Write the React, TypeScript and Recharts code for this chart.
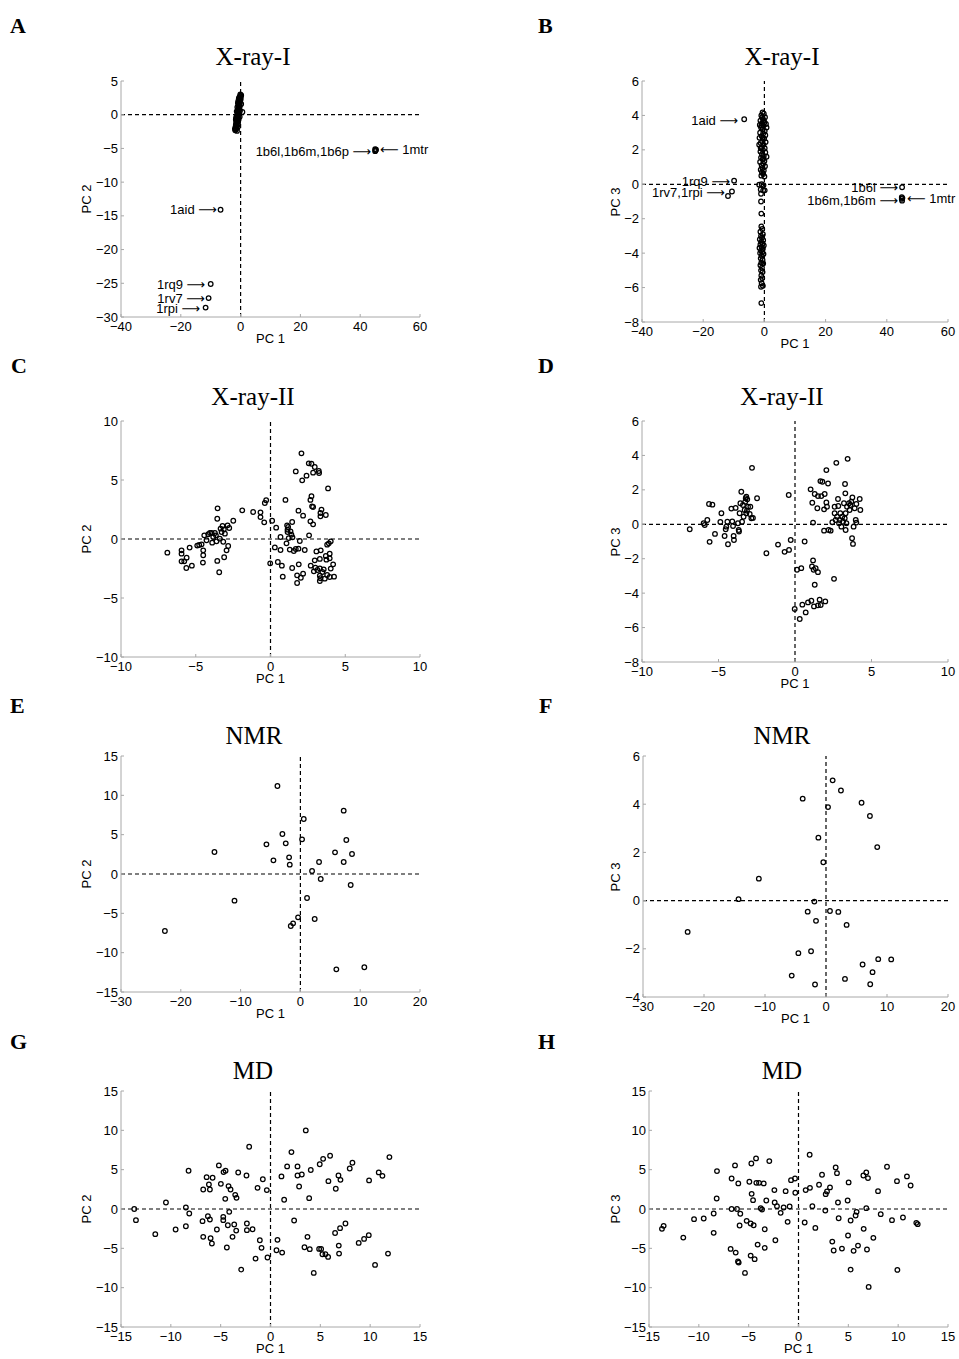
import React from "react";
import { ReferenceDot, ReferenceLine, Scatter, ScatterChart, XAxis, YAxis } from "recharts";

type Pt = [number, number];
type Note = { x: number; y: number; text: string; side: "left" | "right" };

const RA = "\u27F6";
const LA = "\u27F5";

// X-ray-I, PC 1 vs PC 2
const xray1Pc12: Pt[] = [
  [-1.8, -2.3], [-1.6, -2.2], [-1.5, -2.0], [-1.7, -1.8], [-1.4, -1.7], [-1.6, -1.5], [-1.3, -1.4], [-1.5, -1.2],
  [-1.2, -1.1], [-1.4, -0.9], [-1.1, -0.8], [-1.3, -0.6], [-1.0, -0.5], [-1.2, -0.3], [-0.9, -0.2], [-1.1, 0.0],
  [-0.8, 0.1], [-1.0, 0.3], [-0.7, 0.4], [-0.9, 0.6], [-0.6, 0.7], [-0.8, 0.9], [-0.5, 1.0], [-0.7, 1.2],
  [-0.4, 1.3], [-0.6, 1.5], [-0.3, 1.6], [-0.5, 1.8], [-0.2, 1.9], [-0.4, 2.1], [-0.1, 2.2], [-0.3, 2.4],
  [0.0, 2.5], [-0.2, 2.7], [0.1, 2.8], [-0.1, 3.0], [0.2, 2.9], [0.0, 2.3], [-0.9, -1.3], [-1.5, -0.4],
  [-0.6, -0.1], [-1.3, 0.5], [-0.4, 0.8], [-1.1, 1.1], [-0.3, 1.2], [-0.9, 1.7], [-0.8, 2.0], [-0.6, 2.4],
  [-0.4, 2.6], [0.6, 0.4], [-1.9, -2.1], [-1.0, -1.9], [-0.7, -0.7], [-1.6, -0.7], [-0.5, 0.2], [-0.2, 0.6],
  [0.2, 1.6], [-1.2, -2.4], [-0.8, -1.0], [-0.3, -0.3],
  [45.0, -5.1], [45.1, -5.3], [45.3, -5.2], [45.0, -5.4],
  [-6.7, -14.1], [-10.0, -25.1], [-10.7, -27.2], [-11.7, -28.6],
];
const xray1Pc12Notes: Note[] = [
  { x: 45.0, y: -5.5, text: `1b6l,1b6m,1b6p ${RA}`, side: "left" },
  { x: 45.3, y: -5.1, text: `${LA} 1mtr`, side: "right" },
  { x: -6.6, y: -14.1, text: `1aid ${RA}`, side: "left" },
  { x: -10.5, y: -25.1, text: `1rq9 ${RA}`, side: "left" },
  { x: -10.6, y: -27.2, text: `1rv7 ${RA}`, side: "left" },
  { x: -12.2, y: -28.7, text: `1rpi ${RA}`, side: "left" },
];

// X-ray-I, PC 1 vs PC 3
const xray1Pc13: Pt[] = [
  [-0.6, 4.18], [-0.2, 4.1], [-1.0, 4.0], [0.2, 3.9], [-0.5, 3.8], [-1.3, 3.7], [0.0, 3.6], [-0.8, 3.55],
  [0.5, 3.5], [-1.5, 3.45], [-0.3, 3.4], [0.7, 3.3], [-1.1, 3.3], [-0.6, 3.2], [0.1, 3.1], [-1.4, 3.0],
  [-0.4, 2.95], [0.3, 2.85], [-0.9, 2.8], [-1.6, 2.7], [-0.1, 2.65], [-0.7, 2.5], [0.4, 2.45], [-1.2, 2.4],
  [-0.3, 2.3], [-1.7, 2.3], [-0.9, 2.15], [0.1, 2.1], [-0.5, 2.0], [-1.3, 1.9], [0.3, 1.85], [-0.8, 1.75],
  [-0.2, 1.65], [0.7, 1.6], [-1.1, 1.55], [-0.6, 1.45], [0.0, 1.35], [-1.4, 1.3], [-0.4, 1.2], [-0.9, 1.1],
  [0.2, 1.05], [-0.6, 0.95], [-1.2, 0.85], [-0.2, 0.8], [-0.8, 0.7], [-0.4, 0.6], [-1.0, 0.5], [0.0, 0.45],
  [-0.7, 3.9], [-0.2, 3.7], [-1.0, 3.4], [-0.5, 2.7], [-1.2, 2.1], [-0.3, 1.5],
  [-1.7, -0.02], [-0.9, 0.0], [-0.3, -0.05], [-1.2, -0.3], [-0.4, -0.35], [-1.1, -0.55], [0.1, -0.35],
  [-1.1, -1.0], [-1.0, -1.7],
  [-1.0, -2.45], [-0.7, -2.6], [-1.3, -2.75], [-0.5, -2.9], [-1.1, -3.0], [-0.8, -3.1], [-1.5, -3.2],
  [-0.4, -3.25], [-1.0, -3.35], [-0.6, -3.45], [-1.3, -3.5], [-0.2, -3.55], [-0.9, -3.65], [-1.6, -3.7],
  [-0.5, -3.75], [-1.1, -3.85], [-0.7, -3.95], [-1.4, -4.0], [-0.3, -4.05], [-0.9, -4.15], [-1.2, -4.3],
  [-0.6, -4.4], [-1.0, -4.55], [-0.4, -4.6], [-1.3, -4.7], [-0.8, -4.85], [-1.1, -5.0], [-0.6, -5.1],
  [-1.0, -5.3], [-0.7, -5.45], [-1.2, -5.55], [-0.9, -5.75], [-1.1, -5.95], [-0.5, -5.9], [-1.0, -6.9],
  [-6.6, 3.78], [-9.9, 0.21], [-10.6, -0.42], [-11.9, -0.68],
  [45.0, -0.17], [44.9, -0.75], [44.9, -0.85], [45.0, -0.95], [45.1, -0.8],
];
const xray1Pc13Notes: Note[] = [
  { x: -7.3, y: 3.74, text: `1aid ${RA}`, side: "left" },
  { x: -9.9, y: 0.15, text: `1rq9 ${RA}`, side: "left" },
  { x: -11.6, y: -0.49, text: `1rv7,1rpi ${RA}`, side: "left" },
  { x: 45.0, y: -0.2, text: `1b6l ${RA}`, side: "left" },
  { x: 45.0, y: -0.95, text: `1b6m,1b6m ${RA}`, side: "left" },
  { x: 45.3, y: -0.84, text: `${LA} 1mtr`, side: "right" },
];

// X-ray-II, PC 1 vs PC 2
const xray2Pc12: Pt[] = [
  [-6.9, -1.16], [-5.95, -0.96], [-5.95, -1.24], [-5.95, -1.89], [-5.77, -1.89], [-5.61, -1.58], [-5.63, -2.46],
  [-5.41, -0.73], [-5.26, -2.26], [-4.9, -0.56], [-4.77, -0.51], [-4.61, -0.45], [-4.5, -0.96], [-4.5, -1.38],
  [-4.52, -2.0], [-4.43, 0.31], [-4.28, -0.11], [-4.16, 0.4], [-4.05, 0.51], [-3.94, 0.51], [-3.9, -0.31],
  [-3.83, 0.17], [-3.72, 0.51], [-3.65, 0.31], [-3.56, 1.72], [-3.54, 2.6], [-3.61, -0.2], [-3.56, -1.86],
  [-3.43, -2.82], [-3.39, 0.03], [-3.34, 0.88], [-3.27, 0.59], [-3.21, 1.1], [-3.12, 0.82], [-3.16, -0.23],
  [-3.05, 0.45], [-3.1, -1.55], [-2.94, -0.96], [-2.87, 1.16], [-2.83, -0.59], [-2.76, 0.93], [-2.49, 1.55],
  [-1.89, 2.43], [-1.16, 2.29], [-0.67, 2.26], [-0.67, 1.86], [-0.42, 1.41], [-0.38, 3.05], [-0.29, 3.28],
  [0.11, 1.55], [0.38, 0.96], [-0.02, -2.06], [0.29, -0.71], [0.49, -1.95], [0.67, 0.17], [0.67, -0.93],
  [0.76, -2.26], [0.82, -3.19], [1.0, 3.31], [1.07, -0.37], [1.11, 1.16], [1.14, 0.79], [1.14, 0.59],
  [1.18, 1.02], [1.22, 0.08], [1.29, -0.9], [1.34, 0.65], [1.4, 0.37], [1.47, 0.14], [1.45, 1.44],
  [1.45, -2.46], [1.56, -1.02], [1.69, -0.85], [1.69, 5.73], [1.78, -3.08], [1.78, -3.73], [1.87, 2.4],
  [1.87, -0.82], [1.89, -2.15], [1.96, -0.17], [2.07, 7.26], [2.12, 4.97], [2.03, -3.28], [2.18, 1.98],
  [2.18, -2.94], [2.29, -0.93], [2.41, 5.37], [2.56, 6.41], [2.58, 0.31], [2.67, 3.31], [2.67, 1.5],
  [2.69, -2.26], [2.74, 3.62], [2.74, 6.38], [2.78, 2.77], [2.85, 5.62], [2.85, 1.24], [2.85, 2.71],
  [2.9, -2.74], [2.96, 6.1], [2.96, -1.81], [3.0, -2.43], [3.07, -1.05], [3.14, -2.63], [3.23, 5.76],
  [3.25, 5.59], [3.3, -1.69], [3.3, -2.49], [3.34, 1.92], [3.34, 2.2], [3.41, 2.49], [3.36, -0.96],
  [3.3, -3.11], [3.3, -3.56], [3.34, -3.33], [3.47, -2.8], [3.56, -2.57], [3.63, -3.36], [3.7, 2.03],
  [3.7, -1.44], [3.74, -1.75], [3.79, -3.05], [3.79, -0.48], [3.85, 4.29], [3.9, -0.37], [3.96, -1.64],
  [3.96, -1.24], [3.96, -3.22], [4.03, -0.2], [4.03, -2.51], [4.19, -2.15], [4.25, -3.19],
];

// X-ray-II, PC 1 vs PC 3
const xray2Pc13: Pt[] = [
  [-6.88, -0.29], [-5.97, 0.06], [-5.9, -0.04], [-5.73, 0.25], [-5.62, 1.18], [-5.4, 1.14], [-5.58, -1.02],
  [-5.23, -0.56], [-4.88, 0.14], [-4.81, 0.64], [-4.6, -0.68], [-4.53, -0.29], [-4.49, -0.14], [-4.42, 0.15],
  [-4.38, -1.16], [-4.16, 0.91], [-4.1, 0.17], [-4.05, -0.1], [-4.01, -0.68], [-3.99, -0.91], [-3.88, 0.95],
  [-3.73, 0.06], [-3.68, -0.33], [-3.66, -0.42], [-3.62, 0.64], [-3.57, 1.22], [-3.51, 1.89], [-3.46, 0.15],
  [-3.4, 1.12], [-3.36, 0.44], [-3.29, 0.83], [-3.25, 1.31], [-3.22, 1.51], [-3.18, 1.6], [-3.18, 0.64],
  [-3.14, 0.79], [-3.12, 1.45], [-3.07, 1.02], [-2.96, 0.6], [-2.85, 0.35], [-2.81, 3.28], [-2.75, 0.37],
  [-2.48, 1.51], [-2.92, 1.02],
  [-1.87, -1.68], [-1.11, -1.18], [-0.68, -1.6], [-0.41, 1.7], [-0.39, -1.49], [-0.28, -0.91], [-0.02, -4.92],
  [0.13, -2.64], [0.31, -5.5], [0.41, -2.55], [0.48, -4.67], [0.63, -1.0], [0.7, -5.12], [0.85, -4.54],
  [1.07, -4.44], [1.11, -2.45], [1.18, -2.1], [1.22, -2.64], [1.24, -4.77], [1.29, -3.51], [1.35, -2.55],
  [1.5, -2.78], [1.5, -4.71], [1.61, -4.38], [1.68, -4.69], [1.98, -4.48], [2.55, -3.17],
  [1.02, 2.03], [1.13, 1.25], [1.18, 0.1], [1.29, 1.76], [1.46, 0.93], [1.5, 1.64], [1.66, 2.51], [1.79, 2.47],
  [1.72, 1.64], [1.9, 0.87], [1.9, -0.37], [1.94, 1.76], [2.05, 3.15], [2.05, 1.27], [2.09, 1.02], [2.16, 2.37],
  [2.2, -0.33], [2.33, -0.37], [2.44, 0.12], [2.59, 0.64], [2.66, 0.25], [2.7, 3.57], [2.75, 0.44], [2.81, 1.47],
  [2.83, 1.06], [2.88, 0.06], [2.92, 0.25], [2.96, 0.64], [3.03, -0.14], [3.09, 0.44], [3.14, 0.15], [3.2, 1.22],
  [3.25, 0.35], [3.27, 2.34], [3.29, 1.8], [3.31, 0.64], [3.36, 0.06], [3.31, -0.33], [3.4, 1.02], [3.44, 3.8],
  [3.53, 1.22], [3.57, 0.83], [3.62, 1.12], [3.68, 1.31], [3.73, -0.81], [3.75, 1.56], [3.79, -1.14],
  [3.83, -0.14], [3.9, 0.93], [3.97, 0.25], [4.01, 1.18], [4.01, 0.1], [4.23, 1.47], [4.27, 0.83], [2.59, 1.02],
];

// NMR
const nmrPc12: Pt[] = [
  [-22.66, -7.25], [-14.37, 2.8], [-11.02, -3.39], [-5.68, 3.77], [-4.51, 1.74], [-3.84, 11.19], [-3.01, 5.08],
  [-2.45, 3.9], [-1.89, 2.12], [-1.78, 1.19], [-1.61, -6.61], [-1.22, -6.27], [-0.39, -5.51], [0.28, 4.41],
  [0.56, 6.99], [1.11, -3.05], [1.95, 0.38], [2.39, -5.72], [3.12, 1.53], [3.4, -0.64], [5.79, 2.75],
  [6.01, -12.12], [7.24, 8.05], [7.24, 1.53], [7.68, 4.32], [8.41, -1.4], [8.63, 2.54], [10.69, -11.86],
];
const nmrPc13: Pt[] = [
  [-22.68, -1.3], [-14.34, 0.06], [-11.01, 0.91], [-5.62, -3.11], [-4.53, -2.18], [-3.82, 4.23], [-3.0, -0.46],
  [-2.45, -2.1], [-1.91, -0.04], [-1.8, -3.48], [-1.64, -0.84], [-1.25, 2.61], [-0.44, 1.59], [0.33, 3.88],
  [0.65, -0.43], [1.09, 4.99], [2.02, -0.47], [2.45, 4.57], [3.11, -3.25], [3.38, -1.01], [5.83, 4.06],
  [6.0, -2.65], [7.2, 3.51], [7.25, -3.47], [7.63, -2.97], [8.4, 2.22], [8.56, -2.43], [10.69, -2.44],
];

// MD
const mdPc12: Pt[] = [
  [-13.67, 0.0], [-13.5, -1.42], [-11.56, -3.2], [-10.49, 0.83], [-9.52, -2.61], [-8.49, 0.19], [-8.49, -2.19],
  [-8.22, 4.86], [-8.15, -0.57], [-6.82, -1.55], [-6.75, 2.48], [-6.75, -3.54], [-6.41, 4.05], [-6.28, -0.91],
  [-6.18, 3.12], [-6.08, 2.48], [-6.08, -1.34], [-6.01, -3.71], [-5.88, -4.39], [-5.81, 3.97], [-5.38, -2.61],
  [-5.18, 5.54], [-4.98, 3.2], [-4.74, -1.0], [-4.74, -1.42], [-4.71, 4.69], [-4.51, 4.86], [-4.54, 1.29],
  [-4.28, -2.06], [-4.38, -4.9], [-4.21, 2.91], [-4.14, -0.36], [-4.01, 2.48], [-3.81, -3.54], [-3.64, -1.97],
  [-3.54, 1.8], [-3.41, 1.42], [-3.44, -2.74], [-3.24, 4.64], [-2.94, -7.7], [-2.41, 4.26], [-2.37, -1.84],
  [-2.37, -2.69], [-2.14, 7.91], [-1.8, -2.57], [-1.5, -6.3], [-1.3, 2.69], [-1.07, -3.97], [-0.9, -4.94],
  [-0.77, 3.78], [-0.37, 2.4], [-0.3, -6.17], [0.6, -5.24], [0.7, -3.92], [1.1, 4.14], [1.17, -5.54],
  [1.37, 1.17], [1.67, 5.41], [2.1, 7.23], [2.37, -1.46], [2.71, 5.41], [2.71, 4.26], [2.87, 2.86],
  [3.14, 4.39], [3.54, 9.99], [3.41, -4.86], [3.71, -3.54], [3.88, 1.38], [3.94, -5.11], [4.04, 4.96],
  [4.34, -8.12], [4.94, 5.69], [4.88, -5.07], [5.08, -5.07], [5.21, -5.75], [5.28, 6.38], [5.51, -5.75],
  [5.78, -6.09], [5.81, 3.54], [5.98, 6.77], [6.48, -3.05], [6.55, 2.57], [6.82, 4.26], [6.85, -4.65],
  [6.88, -5.67], [6.98, -2.44], [7.02, 3.71], [7.52, -1.84], [7.95, 5.15], [8.22, 5.88], [8.85, -4.31],
  [9.39, -3.8], [9.86, -3.33], [9.89, 3.63], [10.49, -7.11], [10.86, 4.65], [11.23, 4.22], [11.79, -5.67],
  [11.93, 6.6],
];
const mdPc13: Pt[] = [
  [-13.7, -2.52], [-13.53, -2.14], [-11.56, -3.63], [-10.48, -1.29], [-9.51, -1.21], [-8.51, -0.57],
  [-8.51, -3.03], [-8.21, 1.34], [-8.18, 4.82], [-6.81, -5.07], [-6.71, 0.0], [-6.71, 3.88], [-6.37, 5.54],
  [-6.3, -5.54], [-6.17, 0.0], [-6.07, -6.68], [-6.0, -6.81], [-6.04, 3.25], [-5.84, -0.61], [-5.91, -2.1],
  [-5.37, -8.12], [-5.2, -1.5], [-4.93, 3.46], [-4.8, -5.92], [-4.8, -1.84], [-4.73, 5.79], [-4.7, 1.93],
  [-4.56, 1.12], [-4.5, -2.06], [-4.4, -6.38], [-4.26, 6.43], [-4.23, 3.33], [-4.1, -4.52], [-3.96, 3.33],
  [-3.79, 0.11], [-3.66, -0.06], [-3.49, 3.25], [-3.39, -2.57], [-3.39, -4.94], [-3.23, 1.08], [-2.93, 6.09],
  [-2.42, 2.4], [-2.39, 0.83], [-2.32, -3.97], [-2.16, 0.36], [-1.79, -0.49], [-1.49, 0.19], [-1.29, 2.27],
  [-1.09, -1.63], [-0.89, 0.32], [-0.75, 3.67], [-0.35, 3.88], [-0.32, 2.06], [0.62, -1.72], [0.72, 2.4],
  [1.12, 6.9], [1.15, 2.69], [1.39, 0.36], [1.69, -2.4], [2.06, 3.08], [2.36, 4.35], [2.69, -0.19],
  [2.73, 1.89], [2.86, 2.23], [3.16, 2.74], [3.39, -4.14], [3.53, -5.28], [3.73, 5.28], [3.86, 4.56],
  [3.96, 0.83], [4.03, -1.17], [4.36, -5.03], [4.93, 1.08], [4.97, -3.37], [5.03, 3.38], [5.23, -1.46],
  [5.23, -7.7], [5.53, -5.32], [5.73, -0.83], [5.83, -0.36], [5.97, -4.65], [6.51, 4.26], [6.54, -2.52],
  [6.8, 4.65], [6.8, 0.11], [6.87, -5.15], [6.97, 3.93], [7.04, -9.9], [7.51, -3.67], [7.98, 2.27],
  [8.25, -0.66], [8.88, 5.37], [9.38, -1.42], [9.88, 3.54], [9.92, -7.74], [10.48, -1.08], [10.88, 4.14],
  [11.25, 2.99], [11.82, -1.76], [11.96, -1.93],
];

// tick labels
const xray1XTicks = [-40, -20, 0, 20, 40, 60];
const xray1Pc2Ticks = [-30, -25, -20, -15, -10, -5, 0, 5];
const xray1Pc3Ticks = [-8, -6, -4, -2, 0, 2, 4, 6];
const xray2XTicks = [-10, -5, 0, 5, 10];
const xray2Pc2Ticks = [-10, -5, 0, 5, 10];
const xray2Pc3Ticks = [-8, -6, -4, -2, 0, 2, 4, 6];
const nmrXTicks = [-30, -20, -10, 0, 10, 20];
const nmrPc2Ticks = [-15, -10, -5, 0, 5, 10, 15];
const nmrPc3Ticks = [-4, -2, 0, 2, 4, 6];
const mdXTicks = [-15, -10, -5, 0, 5, 10, 15];
const mdYTicks = [-15, -10, -5, 0, 5, 10, 15];

const SANS = '"Liberation Sans", Arial, Helvetica, "DejaVu Sans", sans-serif';
const SERIF = '"Liberation Serif", "Times New Roman", serif';
const BOX = "#a8a8a8";

interface PanelSpec {
  letter: string;
  letterX: number;
  title: string;
  titleX: number;
  base: number; // baseline of the panel letter
  titleBase: number;
  yLabel: string;
  yLabelX: number;
  left: number;
  top: number;
  w: number;
  h: number;
  xTicks: number[];
  yTicks: number[];
  points: Pt[];
  notes?: Note[];
}

const panels: PanelSpec[] = [
  { letter: "A", letterX: 10, title: "X-ray-I", titleX: 253, base: 33, titleBase: 65, yLabel: "PC 2", yLabelX: 86,
    left: 121, top: 81, w: 299, h: 236, xTicks: xray1XTicks, yTicks: xray1Pc2Ticks, points: xray1Pc12, notes: xray1Pc12Notes },
  { letter: "B", letterX: 538, title: "X-ray-I", titleX: 782, base: 33, titleBase: 65, yLabel: "PC 3", yLabelX: 615,
    left: 642, top: 81, w: 306, h: 241, xTicks: xray1XTicks, yTicks: xray1Pc3Ticks, points: xray1Pc13, notes: xray1Pc13Notes },
  { letter: "C", letterX: 11, title: "X-ray-II", titleX: 253, base: 373, titleBase: 405, yLabel: "PC 2", yLabelX: 86,
    left: 121, top: 421, w: 299, h: 236, xTicks: xray2XTicks, yTicks: xray2Pc2Ticks, points: xray2Pc12 },
  { letter: "D", letterX: 538, title: "X-ray-II", titleX: 782, base: 373, titleBase: 405, yLabel: "PC 3", yLabelX: 615,
    left: 642, top: 421, w: 306, h: 241, xTicks: xray2XTicks, yTicks: xray2Pc3Ticks, points: xray2Pc13 },
  { letter: "E", letterX: 10, title: "NMR", titleX: 254, base: 713, titleBase: 744, yLabel: "PC 2", yLabelX: 86,
    left: 121, top: 756, w: 299, h: 236, xTicks: nmrXTicks, yTicks: nmrPc2Ticks, points: nmrPc12 },
  { letter: "F", letterX: 539, title: "NMR", titleX: 782, base: 713, titleBase: 744, yLabel: "PC 3", yLabelX: 615,
    left: 643, top: 756, w: 305, h: 241, xTicks: nmrXTicks, yTicks: nmrPc3Ticks, points: nmrPc13 },
  { letter: "G", letterX: 10, title: "MD", titleX: 253, base: 1049, titleBase: 1079, yLabel: "PC 2", yLabelX: 86,
    left: 121, top: 1091, w: 299, h: 236, xTicks: mdXTicks, yTicks: mdYTicks, points: mdPc12 },
  { letter: "H", letterX: 538, title: "MD", titleX: 782, base: 1049, titleBase: 1079, yLabel: "PC 3", yLabelX: 615,
    left: 649, top: 1091, w: 299, h: 236, xTicks: mdXTicks, yTicks: mdYTicks, points: mdPc13 },
];

const fmt = (v: number) => String(v).replace("-", "\u2212");

const ring = (props: any) => (
  <circle cx={props.cx} cy={props.cy} r={2.3} fill="none" stroke="#000" strokeWidth={1.25} />
);

function Panel({ p }: { p: PanelSpec }) {
  const yW = 50;
  const xH = 30;
  const mT = 6;
  const mR = 26;
  const data = p.points.map(([x, y]) => ({ x, y }));
  const xDom: [number, number] = [p.xTicks[0], p.xTicks[p.xTicks.length - 1]];
  const yDom: [number, number] = [p.yTicks[0], p.yTicks[p.yTicks.length - 1]];
  const tickStyle = { fill: "#000", fontSize: 13, fontFamily: SANS };
  return (
    <>
      <div style={{ position: "absolute", left: p.letterX, top: p.base - 0.837 * 22, font: `bold 22px ${SERIF}`, lineHeight: 1 }}>
        {p.letter}
      </div>
      <div
        style={{
          position: "absolute", left: p.titleX, top: p.titleBase - 0.837 * 25, transform: "translateX(-50%)",
          font: `25px ${SERIF}`, lineHeight: 1, whiteSpace: "nowrap",
        }}
      >
        {p.title}
      </div>
      <div
        style={{
          position: "absolute", left: p.left + p.w / 2, top: p.top + p.h + 26.5 - 0.8465 * 13,
          transform: "translateX(-50%)", font: `13px ${SANS}`, lineHeight: 1, whiteSpace: "nowrap",
        }}
      >
        PC 1
      </div>
      <div
        style={{
          position: "absolute", left: p.yLabelX, top: p.top + p.h / 2, transform: "translate(-50%, -50%) rotate(-90deg)",
          font: `13px ${SANS}`, lineHeight: 1, whiteSpace: "nowrap",
        }}
      >
        {p.yLabel}
      </div>
      <div style={{ position: "absolute", left: p.left - yW, top: p.top - mT }}>
        <ScatterChart width={yW + p.w + mR} height={mT + p.h + xH} margin={{ top: mT, right: mR, bottom: 0, left: 0 }}>
          <XAxis type="number" dataKey="x" domain={xDom} ticks={p.xTicks} interval={0} height={xH}
            stroke={BOX} tickSize={-3} tickMargin={8} tick={tickStyle} tickFormatter={fmt} allowDataOverflow />
          <XAxis xAxisId="top" orientation="top" type="number" domain={xDom} ticks={p.xTicks} interval={0} height={0}
            stroke={BOX} tickSize={-3} tick={false} allowDataOverflow />
          <YAxis type="number" dataKey="y" domain={yDom} ticks={p.yTicks} interval={0} width={yW}
            stroke={BOX} tickSize={-3} tickMargin={6} tick={tickStyle} tickFormatter={fmt} allowDataOverflow />
          <YAxis yAxisId="right" orientation="right" type="number" domain={yDom} ticks={p.yTicks} interval={0} width={0}
            stroke={BOX} tickSize={-3} tick={false} allowDataOverflow />
          <ReferenceLine x={0} stroke="#000" strokeWidth={1.2} strokeDasharray="4 3" />
          <ReferenceLine y={0} stroke="#000" strokeWidth={1.2} strokeDasharray="4 3" />
          <Scatter data={data} isAnimationActive={false} shape={ring} />
          {(p.notes ?? []).map((n, i) => (
            <ReferenceDot key={i} x={n.x} y={n.y} r={0} fill="none" stroke="none"
              label={{ value: n.text, position: n.side, offset: 4, fill: "#000", fontSize: 13, fontFamily: SANS }} />
          ))}
        </ScatterChart>
      </div>
    </>
  );
}

export default function App() {
  return (
    <div style={{ position: "absolute", left: 0, top: 0, width: 959, height: 1359, background: "#fff", overflow: "hidden" }}>
      {panels.map((p) => (
        <Panel key={p.letter} p={p} />
      ))}
    </div>
  );
}
